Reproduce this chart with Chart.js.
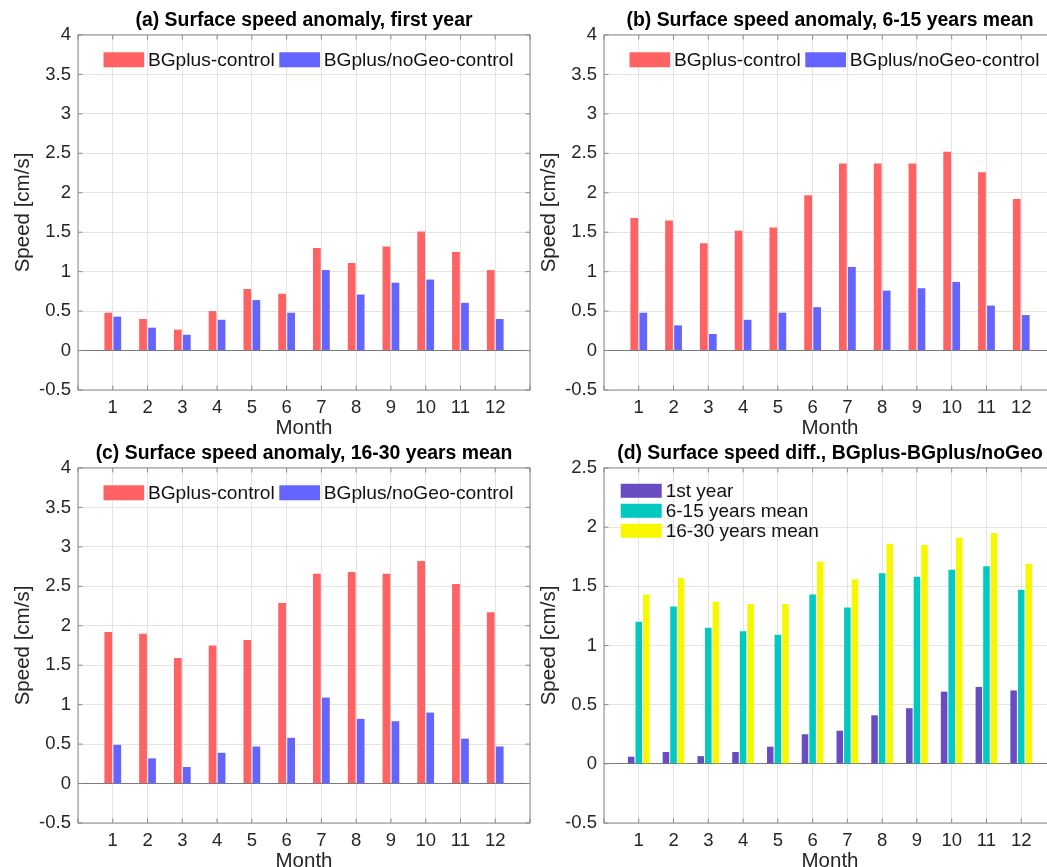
<!DOCTYPE html>
<html>
<head>
<meta charset="utf-8">
<script src="https://cdn.jsdelivr.net/npm/chart.js@4.4.1/dist/chart.umd.min.js"></script>
<style>
  html, body { margin: 0; padding: 0; background: #fff; width: 1047px; height: 867px; overflow: hidden; }
  .panel { position: absolute; overflow: hidden; }
  .panel canvas { display: block; }
</style>
</head>
<body>
<div class="panel" style="left:0px;top:0px;width:545px;height:445px"><canvas id="chartA" width="545" height="445" style="width:545px;height:445px"></canvas></div>
<div class="panel" style="left:526px;top:0px;width:521px;height:445px"><canvas id="chartB" width="545" height="445" style="width:545px;height:445px"></canvas></div>
<div class="panel" style="left:0px;top:433px;width:545px;height:434px"><canvas id="chartC" width="545" height="445" style="width:545px;height:445px"></canvas></div>
<div class="panel" style="left:526px;top:433px;width:521px;height:434px"><canvas id="chartD" width="545" height="445" style="width:545px;height:445px"></canvas></div>
<script>
const months = ['1', '2', '3', '4', '5', '6', '7', '8', '9', '10', '11', '12'];

// (a) first year
const firstBG = [0.48, 0.40, 0.265, 0.50, 0.78, 0.72, 1.30, 1.11, 1.32, 1.51, 1.25, 1.02];
const firstNoGeo = [0.43, 0.29, 0.20, 0.39, 0.64, 0.48, 1.02, 0.71, 0.86, 0.90, 0.605, 0.40];
// (b) 6-15 years mean
const mid615BG = [1.68, 1.65, 1.36, 1.52, 1.56, 1.97, 2.37, 2.37, 2.37, 2.52, 2.26, 1.92];
const mid615NoGeo = [0.48, 0.32, 0.21, 0.39, 0.48, 0.55, 1.06, 0.76, 0.79, 0.87, 0.57, 0.45];
// (c) 16-30 years mean
const late1630BG = [1.92, 1.90, 1.59, 1.75, 1.82, 2.29, 2.66, 2.68, 2.66, 2.82, 2.53, 2.17];
const late1630NoGeo = [0.49, 0.32, 0.21, 0.39, 0.47, 0.58, 1.09, 0.82, 0.79, 0.90, 0.57, 0.47];
// (d) BGplus - BGplus/noGeo
const diffFirst = [0.06, 0.10, 0.065, 0.10, 0.145, 0.25, 0.28, 0.41, 0.47, 0.61, 0.65, 0.62];
const diff615 = [1.20, 1.33, 1.15, 1.12, 1.09, 1.43, 1.32, 1.61, 1.58, 1.64, 1.67, 1.47];
const diff1630 = [1.43, 1.57, 1.37, 1.35, 1.35, 1.71, 1.56, 1.86, 1.85, 1.91, 1.95, 1.69];

const anomalyTicks = [-0.5, 4];
const diffTicks = [-0.5, 2.5];

const FONT = "'Liberation Sans', Arial, Helvetica, sans-serif";
const COLORS = {
  red: '#ff6262', blue: '#6464ff',
  purple: '#6a4cc2', cyan: '#00c9c0', yellow: '#f7f700',
  axis: '#8a8a8a', grid: '#e4e4e4', zero: '#7a7a7a', tick: '#262626',
};

Chart.defaults.font.family = FONT;

// pad with empty slots at 0 and 13 so months sit one step in from each side
const xLabels = ['', ...months, ''];
const padded = arr => [null, ...arr, null];

// legend drawn inside the plot area, like the MATLAB one
const insideLegend = {
  id: 'insideLegend',
  afterDraw(chart, args, o) {
    const { ctx, chartArea } = chart;
    ctx.save();
    ctx.font = o.size + 'px ' + FONT;
    ctx.textBaseline = 'middle';
    let x = chartArea.left + o.x, y = chartArea.top + o.y;
    chart.data.datasets.forEach(ds => {
      ctx.fillStyle = ds.backgroundColor;
      ctx.fillRect(x, y, o.boxW, o.boxH);
      ctx.fillStyle = '#111';
      ctx.fillText(ds.label, x + o.boxW + o.gap, y + o.boxH / 2 + 1);
      if (o.vertical) y += o.rowH;
      else x += o.boxW + o.gap + ctx.measureText(ds.label).width + o.itemGap;
    });
    ctx.restore();
  }
};

// box round the axes plus the small inward tick marks
const axesBox = {
  id: 'axesBox',
  afterDatasetsDraw(chart) {
    const { ctx, chartArea: a, scales: { x, y } } = chart;
    ctx.save();
    ctx.strokeStyle = COLORS.axis;
    ctx.lineWidth = 1;
    ctx.strokeRect(a.left, a.top, a.width, a.height);
    ctx.beginPath();
    x.ticks.forEach((t, i) => {
      const px = x.getPixelForTick(i);
      ctx.moveTo(px, a.bottom); ctx.lineTo(px, a.bottom - 4.5);
      ctx.moveTo(px, a.top); ctx.lineTo(px, a.top + 4.5);
    });
    y.ticks.forEach((t, i) => {
      const py = y.getPixelForTick(i);
      ctx.moveTo(a.left, py); ctx.lineTo(a.left + 4.5, py);
      ctx.moveTo(a.right, py); ctx.lineTo(a.right - 4.5, py);
    });
    ctx.stroke();
    ctx.restore();
  }
};

function makePanel(canvasId, title, datasets, range, legend, catPct) {
  const ctx = document.getElementById(canvasId).getContext('2d');
  return new Chart(ctx, {
    type: 'bar',
    data: {
      labels: xLabels,
      datasets: datasets.map(d => ({
        label: d.label, data: padded(d.data), backgroundColor: d.color,
        borderWidth: 0, categoryPercentage: catPct, barPercentage: 0.86,
      })),
    },
    options: {
      responsive: false, animation: false,
      layout: { padding: { left: 0, top: 0, right: 15, bottom: 0 } },
      plugins: {
        legend: { display: false },
        tooltip: { enabled: false },
        title: {
          display: true, text: title, fullSize: false, color: '#000',
          font: { size: 19.4, weight: 'bold' }, padding: { top: 8.9, bottom: 2.8 },
        },
        insideLegend: legend,
      },
      scales: {
        x: {
          offset: false,
          grid: { color: COLORS.grid, drawTicks: false, offset: false },
          border: { display: false },
          ticks: { color: COLORS.tick, font: { size: 18.5 }, padding: 7, autoSkip: false, maxRotation: 0 },
          title: { display: true, text: 'Month', color: COLORS.tick, font: { size: 20.5 }, padding: { top: 0, bottom: 4.7 } },
          afterFit: s => { s.height = 55; },
        },
        y: {
          min: range[0], max: range[1],
          grid: { color: c => (c.tick && c.tick.value === 0 ? COLORS.zero : COLORS.grid), drawTicks: false },
          border: { display: false },
          ticks: { stepSize: 0.5, color: COLORS.tick, font: { size: 18.5 }, padding: 7, callback: v => String(Math.round(v * 10) / 10) },
          title: { display: true, text: 'Speed [cm/s]', color: COLORS.tick, font: { size: 20.5 }, padding: { top: 10.7, bottom: 0 } },
          afterFit: s => { s.width = 78; },
        },
      },
    },
    plugins: [insideLegend, axesBox],
  });
}

const pairLegend = { x: 25.5, y: 17.3, boxW: 40.7, boxH: 15, gap: 3.7, itemGap: 4.5, size: 19.2, vertical: false };
const stackLegend = { x: 16.7, y: 15.8, boxW: 41, boxH: 14, gap: 4, rowH: 20, size: 19, vertical: true };

// every plot area is 452 px wide; the right-hand panels run past the window edge
makePanel('chartA', '(a) Surface speed anomaly, first year', [
  { label: 'BGplus-control', data: firstBG, color: COLORS.red },
  { label: 'BGplus/noGeo-control', data: firstNoGeo, color: COLORS.blue },
], anomalyTicks, pairLegend, 0.518);

makePanel('chartB', '(b) Surface speed anomaly, 6-15 years mean', [
  { label: 'BGplus-control', data: mid615BG, color: COLORS.red },
  { label: 'BGplus/noGeo-control', data: mid615NoGeo, color: COLORS.blue },
], anomalyTicks, pairLegend, 0.518);

makePanel('chartC', '(c) Surface speed anomaly, 16-30 years mean', [
  { label: 'BGplus-control', data: late1630BG, color: COLORS.red },
  { label: 'BGplus/noGeo-control', data: late1630NoGeo, color: COLORS.blue },
], anomalyTicks, pairLegend, 0.518);

makePanel('chartD', '(d) Surface speed diff., BGplus-BGplus/noGeo', [
  { label: '1st year', data: diffFirst, color: COLORS.purple },
  { label: '6-15 years mean', data: diff615, color: COLORS.cyan },
  { label: '16-30 years mean', data: diff1630, color: COLORS.yellow },
], diffTicks, stackLegend, 0.656);
</script>
</body>
</html>
